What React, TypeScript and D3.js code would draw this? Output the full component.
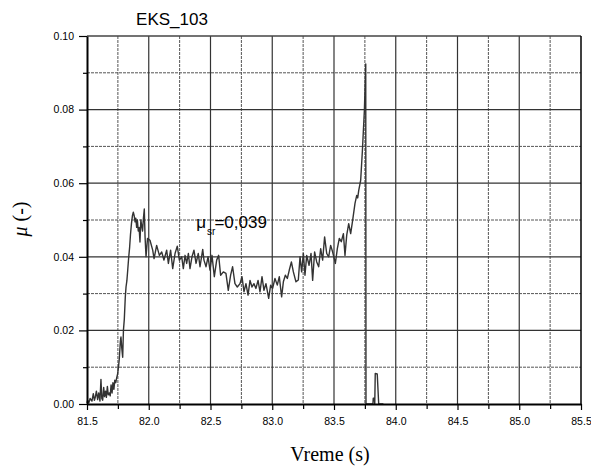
import React, {useEffect, useRef} from 'react';
import * as d3 from 'd3';

// sample times (s)
const time: number[] = [
    81.500, 81.505, 81.515, 81.525, 81.532, 81.540, 81.551, 81.560, 81.567, 81.576,
    81.586, 81.595, 81.605, 81.613, 81.620, 81.627, 81.635, 81.642, 81.650, 81.657,
    81.665, 81.672, 81.680, 81.688, 81.695, 81.703, 81.710, 81.718, 81.725, 81.733,
    81.740, 81.748, 81.755, 81.762, 81.770, 81.775, 81.782, 81.789, 81.795, 81.802,
    81.810, 81.816, 81.823, 81.830, 81.838, 81.845, 81.852, 81.860, 81.868, 81.875,
    81.882, 81.889, 81.895, 81.902, 81.908, 81.915, 81.922, 81.929, 81.936, 81.943,
    81.950, 81.957, 81.964, 81.970, 81.978, 81.990, 82.010, 82.032, 82.043, 82.064,
    82.086, 82.105, 82.123, 82.145, 82.159, 82.177, 82.194, 82.213, 82.231, 82.248,
    82.267, 82.280, 82.294, 82.307, 82.321, 82.334, 82.350, 82.366, 82.383, 82.401,
    82.415, 82.437, 82.447, 82.464, 82.480, 82.496, 82.512, 82.531, 82.550, 82.566,
    82.582, 82.604, 82.625, 82.644, 82.663, 82.679, 82.698, 82.717, 82.739, 82.755,
    82.771, 82.787, 82.804, 82.820, 82.836, 82.852, 82.868, 82.885, 82.901, 82.917,
    82.933, 82.949, 82.971, 82.987, 83.003, 83.022, 83.041, 83.057, 83.076, 83.090,
    83.106, 83.122, 83.138, 83.155, 83.171, 83.192, 83.211, 83.225, 83.238, 83.252,
    83.265, 83.279, 83.298, 83.314, 83.327, 83.343, 83.360, 83.376, 83.392, 83.408,
    83.424, 83.441, 83.457, 83.473, 83.489, 83.511, 83.527, 83.543, 83.559, 83.576,
    83.589, 83.603, 83.619, 83.635, 83.651, 83.670, 83.684, 83.692, 83.700, 83.716,
    83.730, 83.746, 83.757, 83.759, 83.815, 83.818, 83.826, 83.830, 83.834, 83.850,
    83.862, 83.900
];

// friction coefficient mu (-)
const mu: number[] = [
    0.0003, 0.0010, 0.0003, 0.0015, 0.0012, 0.0008, 0.0028, 0.0010, 0.0018, 0.0035,
    0.0012, 0.0030, 0.0008, 0.0067, 0.0015, 0.0010, 0.0045, 0.0020, 0.0035, 0.0018,
    0.0048, 0.0025, 0.0030, 0.0022, 0.0052, 0.0030, 0.0058, 0.0040, 0.0065, 0.0058,
    0.0070, 0.0082, 0.0100, 0.0125, 0.0170, 0.0182, 0.0150, 0.0127, 0.0200, 0.0230,
    0.0290, 0.0318, 0.0335, 0.0365, 0.0400, 0.0425, 0.0460, 0.0490, 0.0512, 0.0521,
    0.0512, 0.0495, 0.0505, 0.0480, 0.0500, 0.0470, 0.0480, 0.0440, 0.0500, 0.0485,
    0.0470, 0.0505, 0.0530, 0.0455, 0.0400, 0.0450, 0.0445, 0.0418, 0.0395, 0.0431,
    0.0404, 0.0413, 0.0391, 0.0418, 0.0382, 0.0418, 0.0368, 0.0409, 0.0429, 0.0391,
    0.0400, 0.0368, 0.0404, 0.0382, 0.0409, 0.0368, 0.0400, 0.0418, 0.0382, 0.0409,
    0.0373, 0.0420, 0.0391, 0.0373, 0.0400, 0.0364, 0.0404, 0.0346, 0.0391, 0.0404,
    0.0350, 0.0359, 0.0355, 0.0309, 0.0350, 0.0373, 0.0327, 0.0318, 0.0327, 0.0346,
    0.0305, 0.0327, 0.0296, 0.0336, 0.0318, 0.0327, 0.0314, 0.0336, 0.0305, 0.0346,
    0.0309, 0.0327, 0.0287, 0.0323, 0.0314, 0.0341, 0.0323, 0.0346, 0.0291, 0.0332,
    0.0350, 0.0341, 0.0364, 0.0386, 0.0359, 0.0332, 0.0337, 0.0400, 0.0359, 0.0409,
    0.0350, 0.0404, 0.0377, 0.0409, 0.0336, 0.0413, 0.0386, 0.0373, 0.0422, 0.0391,
    0.0454, 0.0409, 0.0400, 0.0431, 0.0413, 0.0382, 0.0422, 0.0450, 0.0441, 0.0463,
    0.0404, 0.0459, 0.0490, 0.0463, 0.0499, 0.0545, 0.0567, 0.0560, 0.0580, 0.0608,
    0.0689, 0.0798, 0.0924, 0.0000, 0.0000, 0.0016, 0.0016, 0.0000, 0.0083, 0.0082,
    0.0000, 0.0000
];

const xMajorTicks = [81.5, 82.0, 82.5, 83.0, 83.5, 84.0, 84.5, 85.0, 85.5];
const xMinorTicks = [81.75, 82.25, 82.75, 83.25, 83.75, 84.25, 84.75, 85.25];
const yMajorTicks = [0, 0.02, 0.04, 0.06, 0.08, 0.10];
const yMinorTicks = [0.01, 0.03, 0.05, 0.07, 0.09];

const title = 'EKS_103';
const xTitle = 'Vreme (s)';

const App: React.FC = () => {
    const svgRef = useRef<SVGSVGElement>(null);
    const width = 591;
    const height = 470;
    const margin = {top: 36, right: 10, bottom: 66, left: 87};

    useEffect(() => {
        const svg = d3.select(svgRef.current);
        svg.selectAll("*").remove();

        const innerWidth = width - margin.left - margin.right;
        const innerHeight = height - margin.top - margin.bottom;

        const x = d3.scaleLinear().domain([81.5, 85.5]).range([0, innerWidth]);
        const y = d3.scaleLinear().domain([0, 0.1]).range([innerHeight, 0]);

        const g = svg.append("g")
            .attr("transform", `translate(${margin.left},${margin.top})`);

        // minor grid (dashed)
        g.selectAll(".vminor").data(xMinorTicks).enter().append("line")
            .attr("x1", d => x(d)).attr("x2", d => x(d))
            .attr("y1", 0).attr("y2", innerHeight)
            .attr("stroke", "#555").attr("stroke-width", 1)
            .attr("stroke-dasharray", "3,1");
        g.selectAll(".hminor").data(yMinorTicks).enter().append("line")
            .attr("x1", 0).attr("x2", innerWidth)
            .attr("y1", d => y(d)).attr("y2", d => y(d))
            .attr("stroke", "#555").attr("stroke-width", 1)
            .attr("stroke-dasharray", "3,1");

        // major grid (solid)
        g.selectAll(".vmajor").data(xMajorTicks.slice(1, -1)).enter().append("line")
            .attr("x1", d => x(d)).attr("x2", d => x(d))
            .attr("y1", 0).attr("y2", innerHeight)
            .attr("stroke", "#333").attr("stroke-width", 1.2);
        g.selectAll(".hmajor").data(yMajorTicks.slice(1, -1)).enter().append("line")
            .attr("x1", 0).attr("x2", innerWidth)
            .attr("y1", d => y(d)).attr("y2", d => y(d))
            .attr("stroke", "#333").attr("stroke-width", 1.2);

        // data line
        const pts: [number, number][] = time.map((t, i) => [t, mu[i]]);
        const line = d3.line<[number, number]>()
            .x(d => x(d[0]))
            .y(d => y(d[1]));
        g.append("path")
            .datum(pts)
            .attr("fill", "none")
            .attr("stroke", "#333")
            .attr("stroke-width", 1.4)
            .attr("stroke-linejoin", "round")
            .attr("d", line);

        // frame
        g.append("line").attr("x1", 0).attr("x2", innerWidth).attr("y1", 0).attr("y2", 0)
            .attr("stroke", "#444").attr("stroke-width", 1.5);
        g.append("line").attr("x1", innerWidth).attr("x2", innerWidth).attr("y1", 0).attr("y2", innerHeight)
            .attr("stroke", "#000").attr("stroke-width", 1.5);

        // bottom axis
        const xAxis = g.append("g")
            .attr("transform", `translate(0,${innerHeight})`)
            .call(d3.axisBottom(x).tickValues(xMajorTicks).tickFormat(d3.format(".1f")).tickSize(6).tickSizeOuter(0))
            .style("font-family", "Arial, 'Liberation Sans', sans-serif")
            .style("font-size", "10.5px");
        xAxis.select(".domain").attr("stroke", "#000").attr("stroke-width", 2);
        xAxis.selectAll(".tick line").attr("stroke-width", 1.2);
        xAxis.selectAll(".tick text").attr("fill", "#000").attr("dy", "1.15em");
        g.append("g")
            .attr("transform", `translate(0,${innerHeight})`)
            .call(d3.axisBottom(x).tickValues(xMinorTicks).tickFormat(() => "").tickSize(5).tickSizeOuter(0))
            .call(s => s.select(".domain").remove())
            .selectAll(".tick line").attr("stroke-width", 1.2);

        // left axis
        const yAxis = g.append("g")
            .call(d3.axisLeft(y).tickValues(yMajorTicks).tickFormat(d3.format(".2f")).tickSize(8).tickSizeOuter(0))
            .style("font-family", "Arial, 'Liberation Sans', sans-serif")
            .style("font-size", "10.5px");
        yAxis.select(".domain").attr("stroke", "#000").attr("stroke-width", 2);
        yAxis.selectAll(".tick line").attr("stroke-width", 1.2);
        yAxis.selectAll(".tick text").attr("fill", "#000").attr("x", -13);
        g.append("g")
            .call(d3.axisLeft(y).tickValues(yMinorTicks).tickFormat(() => "").tickSize(4).tickSizeOuter(0))
            .call(s => s.select(".domain").remove())
            .selectAll(".tick line").attr("stroke-width", 1.2);

        // title
        svg.append("text")
            .attr("x", 172).attr("y", 25)
            .attr("text-anchor", "middle")
            .style("font-family", "Arial, 'Liberation Sans', sans-serif")
            .style("font-size", "17px")
            .text(title);

        // x axis title
        svg.append("text")
            .attr("x", 330).attr("y", 461)
            .attr("text-anchor", "middle")
            .style("font-family", "'Liberation Serif', 'Times New Roman', serif")
            .style("font-size", "20px")
            .text(xTitle);

        // y axis title
        const yt = svg.append("text")
            .attr("transform", "translate(27,219) rotate(-90)")
            .attr("text-anchor", "middle")
            .style("font-family", "'Liberation Serif', 'Times New Roman', serif")
            .style("font-size", "20px");
        yt.append("tspan").style("font-style", "italic").text("μ");
        yt.append("tspan").text(" (-)");

        // mean value annotation
        const ann = g.append("text")
            .attr("x", x(82.385)).attr("y", y(0.0477))
            .style("font-family", "Arial, 'Liberation Sans', sans-serif")
            .style("font-size", "17px")
            .attr("fill", "#000");
        ann.append("tspan").text("μ");
        ann.append("tspan").attr("dy", 7).attr("dx", 1).style("font-size", "10px").text("sr");
        ann.append("tspan").attr("dy", -7).attr("dx", -1).text("=0,039");
    }, []);

    return (
        <svg
            ref={svgRef}
            width={width}
            height={height}
            style={{position: 'absolute', left: 0, top: 0, background: '#fff'}}
        />
    );
};

export default App;
